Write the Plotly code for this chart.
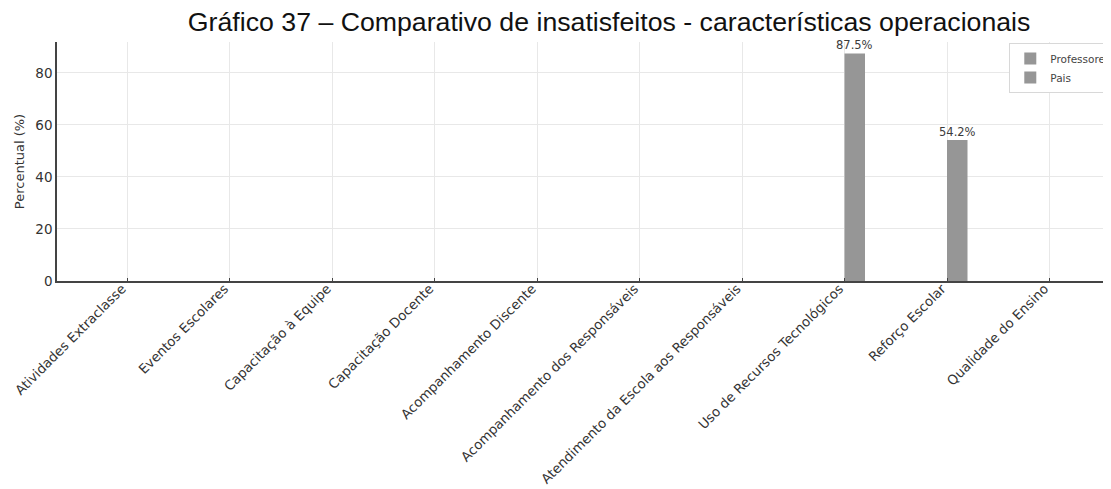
import plotly.graph_objects as go

categories = [
    "Atividades Extraclasse",
    "Eventos Escolares",
    "Capacitação à Equipe",
    "Capacitação Docente",
    "Acompanhamento Discente",
    "Acompanhamento dos Responsáveis",
    "Atendimento da Escola aos Responsáveis",
    "Uso de Recursos Tecnológicos",
    "Reforço Escolar",
    "Qualidade do Ensino",
]
professores = [0, 0, 0, 0, 0, 0, 0, 0, 0, 0]
pais = [0, 0, 0, 0, 0, 0, 0, 87.5, 54.2, 0]
y_ticks = [0, 20, 40, 60, 80]

bar_color = "#969696"
label_font = dict(family="DejaVu Sans", size=11.5, color="#3a3a3a")
fig = go.Figure()
for name, vals in (("Professores", professores), ("Pais", pais)):
    fig.add_trace(go.Bar(x=categories, y=vals, name=name,
                         marker=dict(color=bar_color, line=dict(width=0))))

# value labels above the "Pais" bars (right bar of each group)
for cat, v in zip(categories, pais):
    if v > 0:
        fig.add_annotation(x=cat, y=v, text=f"{v}%", showarrow=False,
                           xanchor="center", yanchor="bottom", xshift=10, yshift=-1,
                           font=label_font)

fig.update_layout(
    width=1103, height=481,
    margin=dict(l=49, r=0, t=34, b=208, autoexpand=False),
    paper_bgcolor="white", plot_bgcolor="white",
    barmode="group", bargap=0.6, bargroupgap=0,
    title=dict(text="Gráfico 37 – Comparativo de insatisfeitos - características operacionais",
               x=0.545, xanchor="center", y=0.971, yanchor="middle",
               font=dict(family="Liberation Sans, Arial", size=26.7, color="#111")),
    font=dict(family="DejaVu Sans", color="#333"),
    legend=dict(x=0.9035, y=0.996, xanchor="left", yanchor="top",
                bgcolor="white", bordercolor="#d8d8d8", borderwidth=1,
                font=dict(family="DejaVu Sans", size=10.5, color="#444"),
                itemsizing="constant", tracegroupgap=0),
    showlegend=True,
)
fig.update_xaxes(range=[-0.683, 9.6], tickangle=-45, automargin=False,
                 tickfont=dict(family="DejaVu Sans", size=13.3, color="#333"),
                 ticklabelshift=-5, ticklabelstandoff=-7,
                 showgrid=True, gridcolor="#e8e8e8", gridwidth=1,
                 showline=True, linecolor="#444", linewidth=1.5,
                 ticks="inside", ticklen=3, tickcolor="#444")
fig.update_yaxes(range=[0, 91.9], tickvals=y_ticks, automargin=False,
                 tickfont=dict(family="DejaVu Sans", size=13.5, color="#333"),
                 title=dict(text="Percentual (%)", font=dict(family="DejaVu Sans", size=13, color="#333"), standoff=8),
                 showgrid=True, gridcolor="#e8e8e8", gridwidth=1,
                 showline=True, linecolor="#444", linewidth=1.5,
                 zeroline=False, ticks="", ticklen=3)

fig.write_html("out.html")
